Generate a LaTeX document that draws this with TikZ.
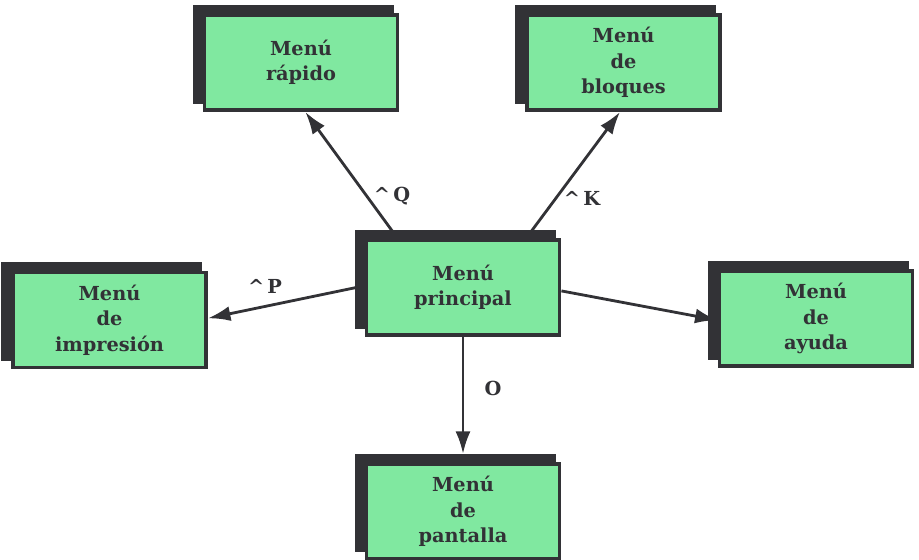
\documentclass[tikz,border=0pt]{standalone}
\usepackage{fontspec}
\newfontfamily\menufont{DejaVu Serif}
\usetikzlibrary{positioning, shadows, arrows.meta}
\definecolor{menugreen}{RGB}{128,232,160}
\definecolor{inkgrey}{RGB}{50,50,54}

\begin{document}
\begin{tikzpicture}[
     node distance = 25mm,
       menu/.style = {rectangle, draw=inkgrey, line width=2.2pt, fill=menugreen,
                      minimum width=38.6mm, minimum height=19mm, align=center,
                      text=inkgrey, font=\menufont\fontsize{11}{14.5}\selectfont\bfseries,
                      general shadow={fill=inkgrey, shadow scale=1.04,
                                      shadow xshift=-1.5mm, shadow yshift=1.6mm}},
        key/.style = {text=inkgrey, font=\menufont\fontsize{11}{14.5}\selectfont\bfseries},
       link/.style = {draw=inkgrey, line width=1.6pt, -{Latex[length=4.5mm,width=3mm]}}
                        ]
\useasboundingbox (0,0) rectangle (18.38,11.2);
% the menus
\node (principal) [menu] at (9.26,5.45) {Menú\\principal};
\node (rapido)    [menu] at (6.02,9.95) {Menú\\rápido};
\node (bloques)   [menu] at (12.47,9.95) {Menú\\de\\bloques};
\node (impresion) [menu] at (2.19,4.80) {Menú\\de\\impresión};
\node (ayuda)     [menu] at (16.32,4.83) {Menú\\de\\ayuda};
\node (pantalla)  [menu, below=of principal] {Menú\\de\\pantalla};
% the keys
\draw[link] (principal.143) -- (rapido.275);
\draw[link] (principal.38) -- (bloques.266);
\draw[link] (principal.179) -- (impresion.1);
\draw[link] (principal.358) -- (ayuda.181);
\draw[link, shorten >=1.6mm] (principal) -- (pantalla);
\node (keyq) [key] at (7.84,7.28) {\^{}\,Q};
\node (keyk) [key] at (11.64,7.24) {\^{}\,K};
\node (keyp) [key] at (5.30,5.48) {\^{}\,P};
\node (keyo) [key] at (9.86,3.44) {O};
\end{tikzpicture}
\end{document}
